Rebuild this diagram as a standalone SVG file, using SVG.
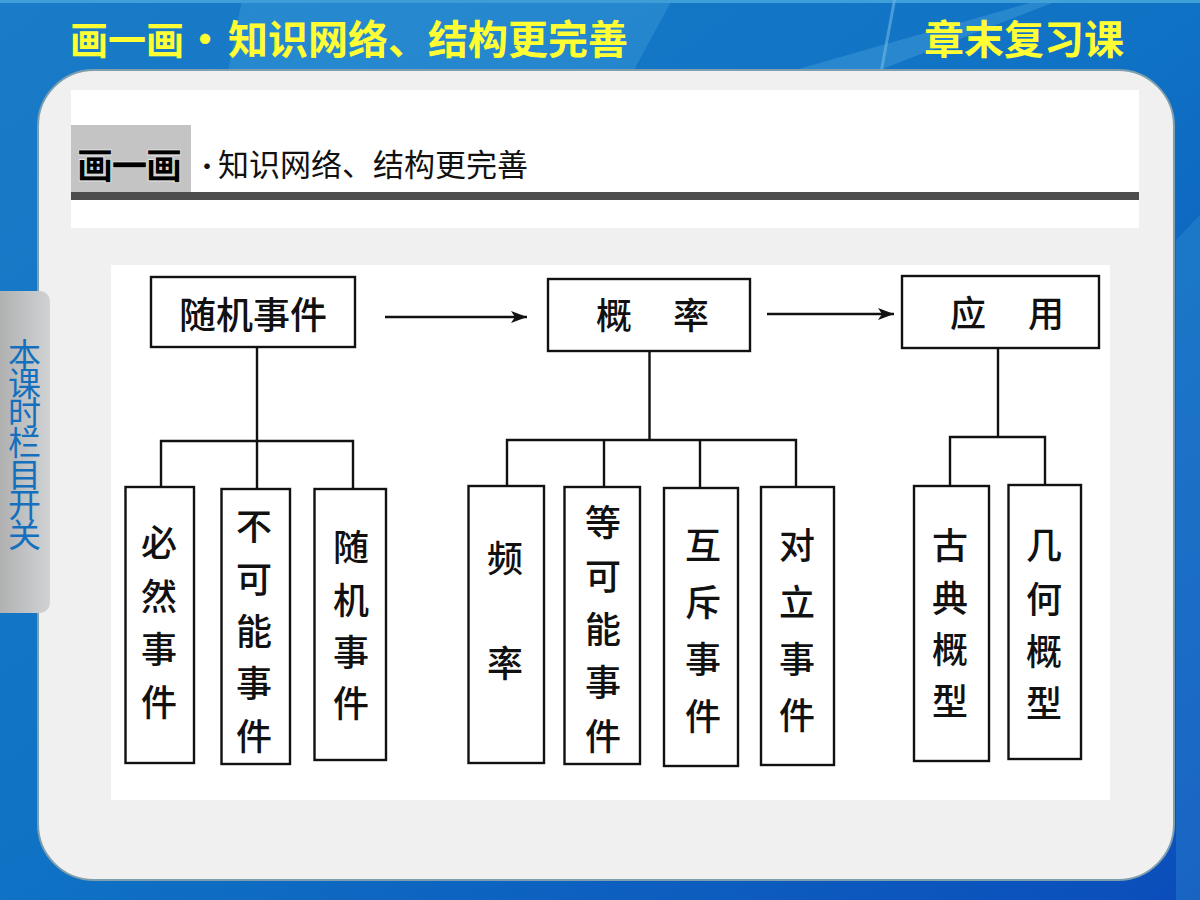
<svg xmlns="http://www.w3.org/2000/svg" width="1200" height="900" viewBox="0 0 1200 900">
<style>
text{font-family:"Noto Sans CJK SC","Liberation Sans",sans-serif}
.box{fill:#fff;stroke:#111;stroke-width:2.4}
.lbl{font-size:36px;fill:#111;text-anchor:middle;font-weight:500}
.ttl{font-size:40px;font-weight:700;fill:#ffff33}
.con{fill:none;stroke:#111;stroke-width:2.4}
</style>
<defs>
<linearGradient id="bg" x1="0" y1="0" x2="1" y2="1"><stop offset="0" stop-color="#1a7cc8"/><stop offset=".5" stop-color="#0f72c4"/><stop offset="1" stop-color="#0b4dbb"/></linearGradient>
<linearGradient id="tab" x1="0" y1="0" x2="1" y2="0"><stop offset="0" stop-color="#aaa"/><stop offset="1" stop-color="#d0d2d4"/></linearGradient>
<marker id="arr" markerUnits="userSpaceOnUse" markerWidth="18" markerHeight="12" refX="16" refY="6" orient="auto"><path d="M0 0L16 6L0 12L4 6Z" fill="#111"/></marker>
</defs>
<rect width="1200" height="900" fill="url(#bg)"/>
<path d="M0 0H1200V3H0Z" fill="#3f9fd8"/>
<path d="M242 0H672L634 70H228Z" fill="#3a9bd8" opacity=".45"/>
<path d="M795 70L1040 0H1060L880 70Z" fill="#4aa4dc" opacity=".4"/>
<path d="M893 0H896L883 70H880Z" fill="#6fb8e4" opacity=".6"/>
<path d="M1176 240L1200 215V900H1176Z" fill="#3a9bd8" opacity=".3"/>
<rect x="38" y="70" width="1136" height="810" rx="56" fill="#f0f0f0" stroke="#7f9fae" stroke-width="2"/>
<rect x="71" y="90" width="1068" height="138" fill="#fff"/>
<rect x="71" y="125" width="120" height="67" fill="#c4c4c4"/>
<rect x="71" y="192" width="1068" height="8" fill="#4d4d4d"/>
<rect x="111" y="265" width="999" height="535" fill="#fff"/>
<text class="ttl" x="70" y="54" style="font-size:38px">画一画</text>
<text class="ttl" x="185" y="54">·</text>
<text class="ttl" x="228" y="54">知识网络、结构更完善</text>
<text class="ttl" x="924" y="54">章末复习课</text>
<text x="77" y="179" font-size="36" font-weight="900" fill="#000" stroke="#fff" stroke-width=".6" textLength="105">画一画</text>
<text x="196" y="174" font-size="22" font-weight="700" fill="#111">·</text>
<text x="218" y="176" font-size="31" fill="#111">知识网络、结构更完善</text>
<g id="tab-switch">
<rect x="-10" y="291" width="60" height="322" rx="10" fill="url(#tab)"/>
<text x="24.500 24.500 24.500 24.500 24.500 24.500 24.500" y="367 396 425 455 487 517 547" font-size="33" fill="#1470bd" text-anchor="middle">本课时栏目开关</text>
</g>
<g id="connectors">
<path class="con" d="M257 347V489M161 487V441H353V489"/>
<path class="con" d="M649.500 351V440M507 486V440H796V487M604 440V487M700 440V488"/>
<path class="con" d="M998 348V437M950 486V437H1045V485"/>
<path class="con" d="M385 317H527" marker-end="url(#arr)"/>
<path class="con" d="M767 314H894" marker-end="url(#arr)"/>
</g>
<g id="n1"><rect class="box" x="151" y="277" width="204" height="70"/><text class="lbl" x="253" y="329" style="font-size:37px">随机事件</text></g>
<g id="n2"><rect class="box" x="548" y="279" width="202" height="72"/><text class="lbl" x="614 691" y="329">概率</text></g>
<g id="n3"><rect class="box" x="902" y="276" width="197" height="72"/><text class="lbl" x="968 1046" y="327">应用</text></g>
<g id="n4"><rect class="box" x="125.500" y="487" width="68.500" height="276"/><text class="lbl" x="159 159 159 159" y="556 610 663 716">必然事件</text></g>
<g id="n5"><rect class="box" x="221.500" y="489" width="68.500" height="275"/><text class="lbl" x="254 254 254 254 254" y="540 593 645 697 750">不可能事件</text></g>
<g id="n6"><rect class="box" x="314.500" y="489" width="71.500" height="271"/><text class="lbl" x="351 351 351 351" y="561 614 666 717">随机事件</text></g>
<g id="n7"><rect class="box" x="468.500" y="486" width="75.500" height="277"/><text class="lbl" x="505 505" y="572 677">频率</text></g>
<g id="n8"><rect class="box" x="564.500" y="487" width="75.500" height="277"/><text class="lbl" x="603 603 603 603 603" y="536 590 643 696 750">等可能事件</text></g>
<g id="n9"><rect class="box" x="664" y="488" width="74" height="278"/><text class="lbl" x="703 703 703 703" y="559 616 673 730">互斥事件</text></g>
<g id="n10"><rect class="box" x="761" y="487" width="73" height="278"/><text class="lbl" x="797 797 797 797" y="559 616 673 729">对立事件</text></g>
<g id="n11"><rect class="box" x="914" y="486" width="75" height="275"/><text class="lbl" x="950 950 950 950" y="559 612 663 715">古典概型</text></g>
<g id="n12"><rect class="box" x="1008.500" y="485" width="72.500" height="274"/><text class="lbl" x="1044 1044 1044 1044" y="559 613 665 717">几何概型</text></g>
</svg>
